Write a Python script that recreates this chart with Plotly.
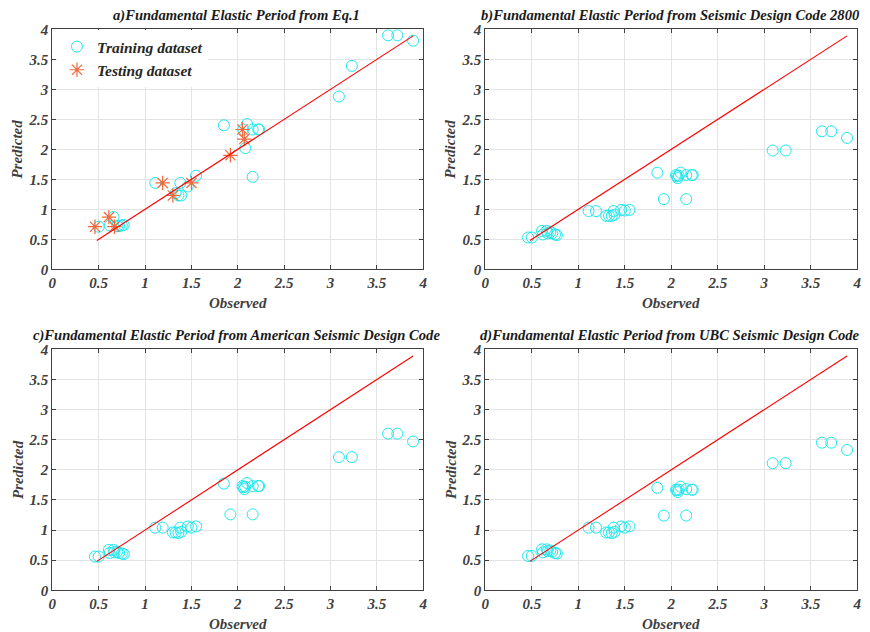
import plotly.graph_objects as go

# ---------------- data ----------------
obs_all = [0.46, 0.50, 0.61, 0.62, 0.66, 0.67, 0.70, 0.72, 0.75, 0.77,
           1.11, 1.19, 1.30, 1.33, 1.36, 1.38, 1.39, 1.46, 1.50, 1.55,
           1.85, 1.92, 2.05, 2.06, 2.07, 2.08, 2.10, 2.16, 2.16, 2.22,
           2.23, 3.09, 3.23, 3.62, 3.72, 3.89]

# panel a (Eq.1) split into training / testing
obs_train = [0.50, 0.62, 0.66, 0.70, 0.72, 0.75, 0.77, 1.11, 1.33, 1.36,
             1.38, 1.39, 1.46, 1.55, 1.85, 2.06, 2.08, 2.10, 2.16, 2.16,
             2.22, 2.23, 3.09, 3.23, 3.62, 3.72, 3.89]
pred_train_a = [0.71, 0.73, 0.87, 0.72, 0.72, 0.73, 0.74, 1.44, 1.27, 1.23,
                1.44, 1.23, 1.38, 1.56, 2.40, 2.33, 2.02, 2.42, 1.54, 2.33,
                2.33, 2.33, 2.88, 3.39, 3.90, 3.90, 3.81]
obs_test = [0.46, 0.61, 0.67, 1.19, 1.30, 1.50, 1.92, 2.05, 2.07]
pred_test_a = [0.71, 0.87, 0.71, 1.44, 1.23, 1.44, 1.90, 2.33, 2.17]

pred_b = [0.53, 0.53, 0.64, 0.58, 0.64, 0.60, 0.62, 0.60, 0.58, 0.57,
          0.97, 0.97, 0.89, 0.89, 0.89, 0.97, 0.91, 0.99, 0.98, 0.99,
          1.61, 1.17, 1.57, 1.55, 1.52, 1.56, 1.61, 1.17, 1.57, 1.57,
          1.57, 1.98, 1.98, 2.30, 2.30, 2.19]
pred_c = [0.56, 0.56, 0.67, 0.62, 0.67, 0.63, 0.64, 0.62, 0.61, 0.60,
          1.04, 1.04, 0.96, 0.96, 0.95, 1.04, 0.97, 1.06, 1.04, 1.06,
          1.77, 1.26, 1.73, 1.71, 1.68, 1.72, 1.78, 1.26, 1.73, 1.73,
          1.73, 2.21, 2.21, 2.60, 2.60, 2.47]
pred_d = [0.57, 0.57, 0.68, 0.63, 0.68, 0.65, 0.66, 0.64, 0.62, 0.61,
          1.04, 1.04, 0.96, 0.96, 0.95, 1.04, 0.97, 1.06, 1.04, 1.06,
          1.70, 1.24, 1.67, 1.66, 1.63, 1.67, 1.72, 1.24, 1.68, 1.67,
          1.67, 2.11, 2.11, 2.45, 2.45, 2.33]

line_ends = [0.48, 3.89]

tick_vals = [0, 0.5, 1, 1.5, 2, 2.5, 3, 3.5, 4]
tick_text = ["0", "0.5", "1", "1.5", "2", "2.5", "3", "3.5", "4"]

titles = ["a)Fundamental Elastic Period from Eq.1",
          "b)Fundamental Elastic Period from Seismic Design Code 2800",
          "c)Fundamental Elastic Period from American Seismic Design Code",
          "d)Fundamental Elastic Period from UBC Seismic Design Code"]

# ---------------- styling ----------------
OFF = 8                      # page body margin of the html page
W, H = 870 - OFF, 632 - OFF  # figure fits inside the window
FONT = "Liberation Serif, Times New Roman, serif"
CYAN = "#1fe8ee"
STAR = "#f0683a"
AXCOL = "#404040"

# panel plot areas in window pixels (left, right, top, bottom)
boxes = [(52.3, 423.3, 29.3, 269.3),
         (485.3, 857.3, 29.3, 269.3),
         (52.3, 423.3, 349.3, 590.3),
         (485.3, 857.3, 349.3, 590.3)]

def px_x(v):
    return (v - OFF) / W

def px_y(v):
    return 1 - (v - OFF) / H

fig = go.Figure()

def ax_names(i):
    return ("x" if i == 0 else f"x{i+1}", "y" if i == 0 else f"y{i+1}")

circle = dict(symbol="circle-open", size=11, color=CYAN, line=dict(width=1, color=CYAN))

# panel a
fig.add_trace(go.Scatter(x=obs_train, y=pred_train_a, mode="markers", name="Training dataset",
                         marker=circle, xaxis="x", yaxis="y"))
fig.add_trace(go.Scatter(x=obs_test, y=pred_test_a, mode="markers", name="Testing dataset",
                         marker=dict(symbol="asterisk-open", size=12, color=STAR,
                                     line=dict(width=1.2, color=STAR)),
                         xaxis="x", yaxis="y"))
fig.add_trace(go.Scatter(x=line_ends, y=line_ends, mode="lines", showlegend=False,
                         line=dict(color="#ff0000", width=1.1), xaxis="x", yaxis="y"))

for i, preds in zip([1, 2, 3], [pred_b, pred_c, pred_d]):
    xa, ya = ax_names(i)
    fig.add_trace(go.Scatter(x=obs_all, y=preds, mode="markers", showlegend=False,
                             marker=circle, xaxis=xa, yaxis=ya))
    fig.add_trace(go.Scatter(x=line_ends, y=line_ends, mode="lines", showlegend=False,
                             line=dict(color="#ff0000", width=1.1), xaxis=xa, yaxis=ya))

tickfont = dict(family=FONT, size=15, color=AXCOL, weight="bold", style="italic")
layout = dict(width=W, height=H, margin=dict(l=0, r=0, t=0, b=0, autoexpand=False),
              paper_bgcolor="white", plot_bgcolor="white", annotations=[])

for i, (l, r, t, b) in enumerate(boxes):
    xa, ya = ax_names(i)
    xkey = "xaxis" if i == 0 else f"xaxis{i+1}"
    ykey = "yaxis" if i == 0 else f"yaxis{i+1}"
    common = dict(range=[0, 4], tickvals=tick_vals, ticktext=tick_text,
                  showgrid=True, gridcolor="#e3e3e3", gridwidth=1,
                  showline=True, linecolor=AXCOL, linewidth=1, mirror="ticks",
                  ticks="inside", ticklen=4, tickcolor=AXCOL, tickwidth=1,
                  zeroline=False, tickfont=tickfont, fixedrange=True, automargin=False)
    layout[xkey] = dict(common, domain=[px_x(l), px_x(r)], anchor=ya)
    layout[ykey] = dict(common, domain=[px_y(b), px_y(t)], anchor=xa)
    cx = (l + r) / 2
    layout["annotations"].append(dict(
        text=titles[i], xref="paper", yref="paper", x=px_x(cx - 1), y=px_y(t - 3),
        xanchor="center", yanchor="bottom", showarrow=False,
        font=dict(family=FONT, size=14.6, color="#1a1a1a", weight="bold", style="italic")))
    layout["annotations"].append(dict(
        text="Observed", xref="paper", yref="paper", x=px_x(cx), y=px_y(b + 34),
        xanchor="center", yanchor="middle", showarrow=False,
        font=dict(family=FONT, size=15, color=AXCOL, weight="bold", style="italic")))
    layout["annotations"].append(dict(
        text="Predicted", xref="paper", yref="paper", x=px_x(l - 35), y=px_y((t + b) / 2),
        xanchor="center", yanchor="middle", showarrow=False, textangle=-90,
        font=dict(family=FONT, size=15, color=AXCOL, weight="bold", style="italic")))

layout["legend"] = dict(x=px_x(57), y=px_y(30), xanchor="left", yanchor="top",
                        bgcolor="white", borderwidth=0, tracegroupgap=0,
                        font=dict(family=FONT, size=15.5, color="#262626", weight="bold", style="italic"))
fig.update_layout(**layout)
fig.write_html("out.html")
